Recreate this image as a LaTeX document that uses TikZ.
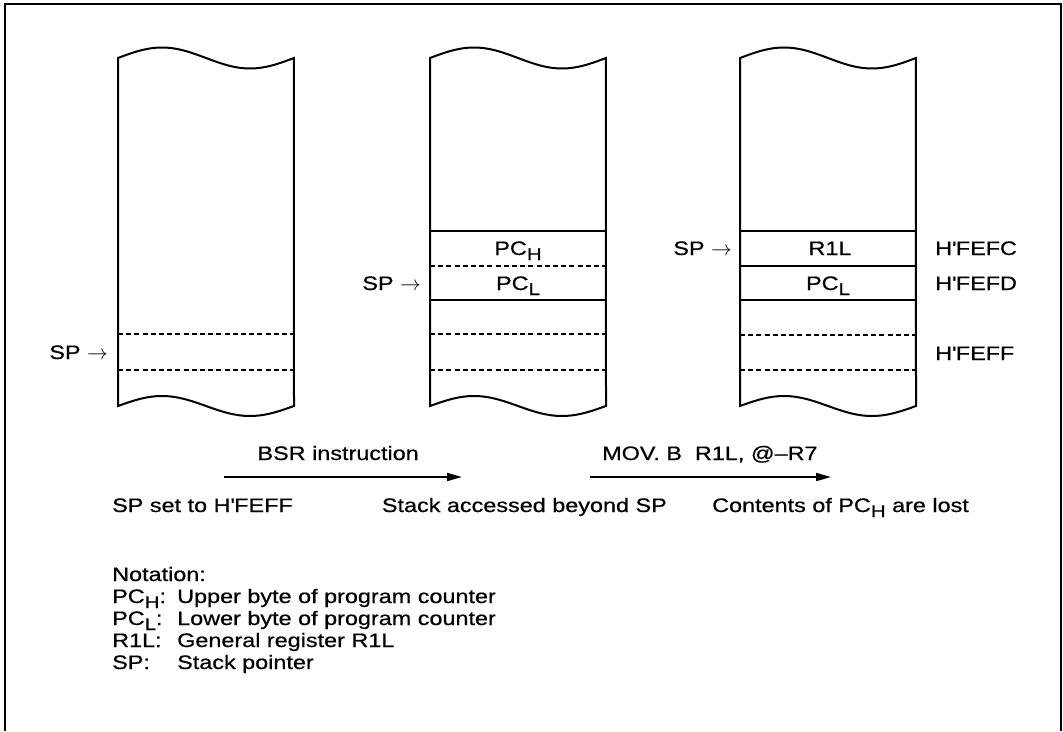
\documentclass[tikz,border=0pt]{standalone}
\usepackage{fontspec}
\setmainfont{Liberation Sans}[FakeStretch=1.2,FakeBold=0.6]
\usetikzlibrary{arrows.meta}
\newcommand\lsub[1]{\raisebox{-5pt}{\fontsize{17}{18}\selectfont #1}}
\newcommand\hq{\textquotesingle}
\newcommand\stackcol[1]{%
  \draw[stackline] plot[domain=0:1,samples=60] ({#1+176*\x},{58-10.5*sin(360*\x)})
    -- plot[domain=1:0,samples=60] ({#1+176*\x},{406-10*sin(360*\x)}) -- cycle;}
\begin{document}
\begin{tikzpicture}[x=1pt,y=-1pt,
  txt/.style={inner sep=0pt, font=\fontsize{19.5}{22}\selectfont},
  stackline/.style={line width=2pt},
  row/.style={line width=1.6pt},
  dashrow/.style={line width=1.6pt, dash pattern=on 5pt off 3.2pt},
  frame/.style={line width=2.6pt},
  flow/.style={line width=1.8pt, -{Triangle[length=15pt,width=8pt]}}]
\useasboundingbox (0,0) rectangle (1063,731);
\draw[frame] (5,731) -- (5,4) -- (1061,4) -- (1061,731);

% stacks
\stackcol{118}
\stackcol{430}
\stackcol{740}

% stack 1 rows
\draw[dashrow] (118,334) -- (294,334);
\draw[dashrow] (118,370) -- (294,370);
% stack 2 rows
\draw[row] (430,231) -- (606,231);
\draw[dashrow] (430,266) -- (606,266);
\draw[row] (430,300) -- (606,300);
\draw[dashrow] (430,334) -- (606,334);
\draw[dashrow] (430,370) -- (606,370);
% stack 3 rows
\draw[row] (740,231) -- (916,231);
\draw[row] (740,266) -- (916,266);
\draw[row] (740,300) -- (916,300);
\draw[dashrow] (740,335) -- (916,335);
\draw[dashrow] (740,370) -- (916,370);

% labels in and beside stacks
\node[txt,anchor=base east] (sp1) at (108,359) {SP $\rightarrow$};
\node[txt,anchor=base east] (sp2) at (421,290) {SP $\rightarrow$};
\node[txt,anchor=base] (pch2) at (518,255) {PC\lsub{H}};
\node[txt,anchor=base] (pcl2) at (518,290) {PC\lsub{L}};
\node[txt,anchor=base east] (sp3) at (732,255) {SP $\rightarrow$};
\node[txt,anchor=base] (r1l3) at (830,255) {R1L};
\node[txt,anchor=base] (pcl3) at (828,290) {PC\lsub{L}};
\node[txt,anchor=base west] (afc) at (935,255) {H\hq FEFC};
\node[txt,anchor=base west] (afd) at (935,290) {H\hq FEFD};
\node[txt,anchor=base west] (aff) at (935,360) {H\hq FEFF};

% transitions
\coordinate (a1s) at (224,477);
\coordinate (a1e) at (462,477);
\coordinate (a2s) at (590,477);
\coordinate (a2e) at (831,477);
\draw[flow] (a1s) -- (a1e);
\draw[flow] (a2s) -- (a2e);
\node[txt,anchor=base east] (bsr) at (419,460) {BSR instruction};
\node[txt,anchor=base west] (mov) at (602,460) {MOV. B\ \ R1L, @--R7};

\node[txt,anchor=base west] (st1) at (112,512) {SP set to H\hq FEFF};
\node[txt,anchor=base east] (st2) at (667,512) {Stack accessed beyond SP};
\node[txt,anchor=base west] (st3) at (712,512) {Contents of PC\lsub{H} are lost};

% notation
\node[txt,anchor=base west] (nt) at (112,581) {Notation:};
\node[txt,anchor=base west] (n1a) at (112,603) {PC\lsub{H}:};
\node[txt,anchor=base west] (n1b) at (177,603) {Upper byte of program counter};
\node[txt,anchor=base west] (n2a) at (112,625) {PC\lsub{L}:};
\node[txt,anchor=base west] (n2b) at (177,625) {Lower byte of program counter};
\node[txt,anchor=base west] (n3a) at (112,647) {R1L:};
\node[txt,anchor=base west] (n3b) at (177,647) {General register R1L};
\node[txt,anchor=base west] (n4a) at (112,669) {SP:};
\node[txt,anchor=base west] (n4b) at (177,669) {Stack pointer};
\end{tikzpicture}
\end{document}
